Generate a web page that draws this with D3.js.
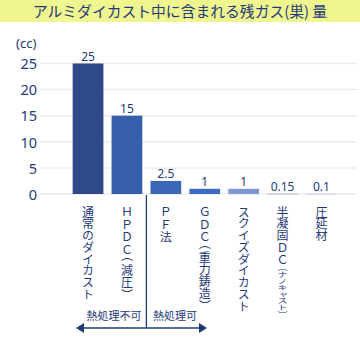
<!DOCTYPE html>
<html><head><meta charset="utf-8">
<script src="https://cdn.jsdelivr.net/npm/d3@7"></script>
<style>
html,body{margin:0;padding:0;background:#fff;}
svg{display:block;font-family:"Noto Sans CJK JP","Noto Sans",sans-serif;}
.vert{writing-mode:vertical-rl;text-orientation:upright;}
</style></head>
<body>
<svg id="c" width="360" height="345"></svg>
<script>
const title = "アルミダイカスト中に含まれる残ガス(巣) 量";
const unitLabel = "(cc)";
const categories = [
  "通常のダイカスト",
  "ＨＰＤＣ（減圧）",
  "ＰＦ法",
  "ＧＤＣ（重力鋳造）",
  "スクイズダイカスト",
  "半凝固ＤＣ",
  "圧延材"
];
const subLabels = ["", "", "", "", "", "（ナノキャスト）", ""];
const values = [25, 15, 2.5, 1, 1, 0.15, 0.1];
const valueLabels = ["25", "15", "2.5", "1", "1", "0.15", "0.1"];
const barColors = ["#2e4b87", "#355fa8", "#3b67b7", "#3a6cc6", "#7c97d2", "#c3cde6", "#d4dbed"];
const yTicks = [0, 5, 10, 15, 20, 25];
const groupLabels = ["熱処理不可", "熱処理可"];

const navy = "#1f3a78";
const svg = d3.select("#c");

// title bar
svg.append("rect").attr("x",0).attr("y",0).attr("width",360).attr("height",22).attr("fill","#eff58f");
svg.append("text").attr("x",180).attr("y",16.5).attr("text-anchor","middle")
  .attr("font-size",14.8).attr("fill",navy).text(title);

const x = d3.scaleBand().domain(d3.range(values.length)).range([64.5, 345]).paddingInner(0.21).paddingOuter(0.21);
const y = d3.scaleLinear().domain([0,25]).range([194, 63.5]);

// grid
svg.append("g").selectAll("line").data(yTicks).join("line")
  .attr("x1",40).attr("x2",357).attr("y1",d=>y(d)).attr("y2",d=>y(d))
  .attr("stroke","#ebebeb").attr("stroke-width",1.5);

// y axis labels
const yAxis = d3.axisLeft(y).tickValues(yTicks).tickSize(0).tickPadding(0);
const ga = svg.append("g").attr("transform","translate(37,0)").call(yAxis);
ga.select(".domain").remove();
ga.selectAll("text").attr("font-size",14.5).attr("fill",navy).attr("font-family","Noto Sans, sans-serif").attr("dy","0.36em");

svg.append("text").attr("x",16).attr("y",48).attr("font-size",13).attr("fill",navy)
  .attr("font-family","Noto Sans, sans-serif").text(unitLabel);

// bars
svg.append("g").selectAll("rect").data(values).join("rect")
  .attr("x",(d,i)=>x(i)).attr("width",x.bandwidth())
  .attr("y",d=>y(d)).attr("height",d=>Math.max(y(0)-y(d),1.5))
  .attr("fill",(d,i)=>barColors[i]);

// value labels
svg.append("g").selectAll("text").data(values).join("text")
  .attr("x",(d,i)=>x(i)+x.bandwidth()/2).attr("y",d=>y(d)-2.5)
  .attr("text-anchor","middle").attr("font-size",12).attr("fill",navy)
  .attr("font-family","Noto Sans, sans-serif")
  .text((d,i)=>valueLabels[i]);

// category labels (vertical text, one text element per label)
const catG = svg.append("g");
function vText(str, cx, y0, fs, scaleY) {
  const g = catG.append("g").attr("transform",`translate(${cx},${y0}) scale(1,${scaleY})`);
  const t = g.append("text").attr("class","vert").attr("x",0).attr("y",0)
    .attr("font-size",fs).attr("fill",navy).attr("font-family","Noto Sans CJK JP, sans-serif");
  let yy = 0;
  for (const ch of str) {
    const open = ch === "（", close = ch === "）";
    const latin = /[Ａ-Ｚ]/.test(ch);
    const adv = (open || close) ? fs*0.7 : latin ? fs*1.04 : fs*0.98;
    const off = open ? -fs*0.5 : close ? fs*0.15 : 0;
    t.append("tspan").attr("x",0).attr("y",yy+off).text(ch);
    yy += adv;
  }
  return yy*scaleY;
}
categories.forEach((label,i)=>{
  const cx = x(i)+x.bandwidth()/2;
  const h = vText(label, cx, 206, 12, 1);
  if (subLabels[i]) vText(subLabels[i], cx, 206+h+1, 10, 0.66);
});

// divider
const divX = (x(1)+x.bandwidth()+x(2))/2;
svg.append("line").attr("x1",divX).attr("x2",divX).attr("y1",195).attr("y2",328)
  .attr("stroke",navy).attr("stroke-width",1.3);

// arrow
const ax1 = 76, ax2 = 207, ay = 328;
svg.append("line").attr("x1",ax1+5).attr("x2",ax2-5).attr("y1",ay).attr("y2",ay)
  .attr("stroke",navy).attr("stroke-width",1.5);
svg.append("path").attr("d",`M${ax1},${ay} L${ax1+8},${ay-5} L${ax1+8},${ay+5} Z`).attr("fill",navy);
svg.append("path").attr("d",`M${ax2},${ay} L${ax2-8},${ay-5} L${ax2-8},${ay+5} Z`).attr("fill",navy);

svg.append("text").attr("x",114).attr("y",320).attr("text-anchor","middle")
  .attr("font-size",11).attr("fill",navy).text(groupLabels[0]);
svg.append("text").attr("x",175).attr("y",320).attr("text-anchor","middle")
  .attr("font-size",11).attr("fill",navy).text(groupLabels[1]);
</script>
</body></html>
